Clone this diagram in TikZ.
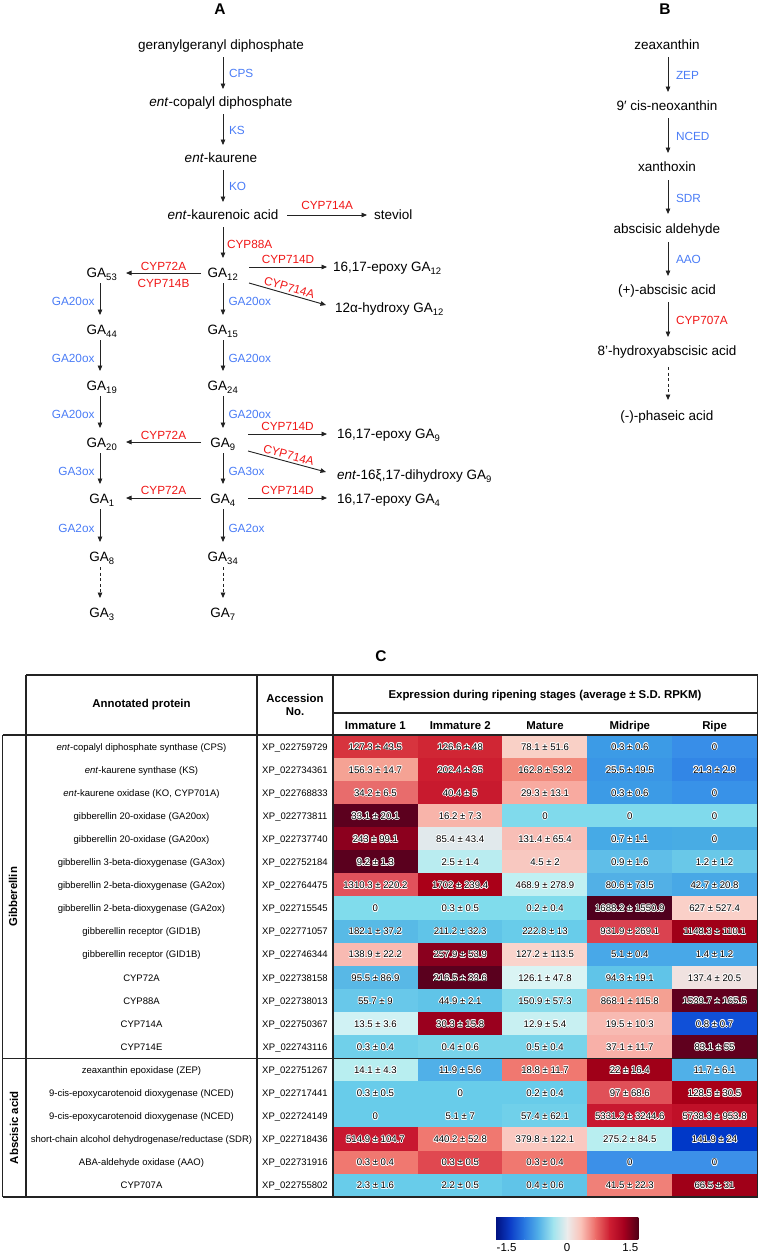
\documentclass[tikz,border=0pt]{standalone}
\usepackage{fontspec}
\setmainfont{Liberation Sans}
\usetikzlibrary{arrows.meta}
\definecolor{enzblue}{RGB}{74,124,246}
\definecolor{enzred}{RGB}{240,22,22}
\definecolor{linec}{RGB}{35,35,35}
\definecolor{cb0}{RGB}{0,18,130}
\definecolor{cb1}{RGB}{12,62,200}
\definecolor{cb2}{RGB}{42,122,225}
\definecolor{cb3}{RGB}{84,178,232}
\definecolor{cb4}{RGB}{160,228,238}
\definecolor{cb5}{RGB}{236,236,236}
\definecolor{cb6}{RGB}{250,192,182}
\definecolor{cb7}{RGB}{236,108,104}
\definecolor{cb8}{RGB}{205,30,50}
\definecolor{cb9}{RGB}{165,0,30}
\definecolor{cb10}{RGB}{80,0,22}
\newcommand{\halotxt}[1]{%
  \leavevmode
  \rlap{\kern-0.8pt\textcolor{white}{#1}}%
  \rlap{\kern0.8pt\textcolor{white}{#1}}%
  \rlap{\raise0.8pt\hbox{\textcolor{white}{#1}}}%
  \rlap{\lower0.8pt\hbox{\textcolor{white}{#1}}}%
  \rlap{\kern-0.6pt\raise0.6pt\hbox{\textcolor{white}{#1}}}%
  \rlap{\kern0.6pt\raise0.6pt\hbox{\textcolor{white}{#1}}}%
  \rlap{\kern-0.6pt\lower0.6pt\hbox{\textcolor{white}{#1}}}%
  \rlap{\kern0.6pt\lower0.6pt\hbox{\textcolor{white}{#1}}}%
  #1}
\tikzset{
  compound/.style={inner sep=0pt, outer sep=0pt, font=\fontsize{13.5}{16}\selectfont, text height=9.7pt, text depth=0pt},
  enzb/.style={inner sep=0pt, outer sep=0pt, font=\fontsize{11.8}{14}\selectfont, text=enzblue, text height=8.4pt, text depth=0pt},
  enzr/.style={inner sep=0pt, outer sep=0pt, font=\fontsize{11.8}{14}\selectfont, text=enzred, text height=8.4pt, text depth=0pt},
  arr/.style={draw=linec, line width=0.9pt, -{Triangle[length=5.5pt,width=4.6pt]}},
  darr/.style={arr, dash pattern=on 3pt off 2.6pt},
  panel/.style={inner sep=0pt, font=\bfseries\fontsize{15.5}{18}\selectfont},
  prot/.style={inner sep=0pt, font=\fontsize{9.5}{11}\selectfont, text height=6.9pt, text depth=0pt},
  heat/.style={inner sep=0pt, outer sep=0pt, minimum width=85.4pt, minimum height=23.6pt, font=\fontsize{9.6}{11}\selectfont, text height=6.9pt, text depth=0pt},
  hdr/.style={inner sep=0pt, font=\bfseries\fontsize{11.4}{13.8}\selectfont, align=center},
  tline/.style={draw=linec, line width=1.1pt},
  tthick/.style={draw=linec, line width=1.7pt},
  cbl/.style={inner sep=0pt, font=\fontsize{11.5}{14}\selectfont, text height=8.2pt, text depth=0pt}
}
\newcommand{\hc}[4]{%
  \definecolor{cc}{RGB}{#3}%
  \node[heat, fill=cc] (h#2-#1) at ({333+84.8*(#1-0.5)},{735+23.1*(#2-0.5)}) {\halotxt{#4}};}
\newcommand{\prow}[3]{%
  \node[prot] (p#1) at (141.5,{735+23.1*(#1-0.5)}) {#2};
  \node[prot] (a#1) at (295,{735+23.1*(#1-0.5)}) {#3};}
\begin{document}
\begin{tikzpicture}[x=1pt,y=-1pt]
\useasboundingbox (0,0) rectangle (759,1253);
% ---------- Panel A ----------
\node[panel] (lA) at (220,9.5) {A};
\coordinate (colM) at (223,0);
\coordinate (colL) at (100,0);
\coordinate (colB) at (668,0);
\node[compound] (ggpp) at (221,45) {geranylgeranyl diphosphate};
\node[compound] (cpp) at (221,102) {\textit{ent}-copalyl diphosphate};
\node[compound] (kaur) at (221,158) {\textit{ent}-kaurene};
\node[compound] (kacid) at (223,215) {\textit{ent}-kaurenoic acid};
\node[compound, anchor=west] (stev) at (374,215) {steviol};
\node[compound] (ga12) at (223,273) {GA\textsubscript{12}};
\node[compound] (ga53) at (102,273) {GA\textsubscript{53}};
\node[compound, anchor=west] (ep12) at (333,267) {16,17-epoxy GA\textsubscript{12}};
\node[compound, anchor=west] (hy12) at (335,308) {12α-hydroxy GA\textsubscript{12}};
\node[compound] (ga15) at (223,330) {GA\textsubscript{15}};
\node[compound] (ga24) at (223,386) {GA\textsubscript{24}};
\node[compound] (ga9) at (223,443) {GA\textsubscript{9}};
\node[compound] (ga4) at (223,499) {GA\textsubscript{4}};
\node[compound] (ga34) at (223,557) {GA\textsubscript{34}};
\node[compound] (ga7) at (223,613) {GA\textsubscript{7}};
\node[compound] (ga44) at (102,330) {GA\textsubscript{44}};
\node[compound] (ga19) at (102,386) {GA\textsubscript{19}};
\node[compound] (ga20) at (102,443) {GA\textsubscript{20}};
\node[compound] (ga1) at (102,499) {GA\textsubscript{1}};
\node[compound] (ga8) at (102,557) {GA\textsubscript{8}};
\node[compound] (ga3) at (102,613) {GA\textsubscript{3}};
\node[compound, anchor=west] (ep9) at (337,434) {16,17-epoxy GA\textsubscript{9}};
\node[compound, anchor=west] (dh9) at (337,475) {\textit{ent}-16ξ,17-dihydroxy GA\textsubscript{9}};
\node[compound, anchor=west] (ep4) at (337,499) {16,17-epoxy GA\textsubscript{4}};
% top chain
\draw[arr, shorten <=12pt, shorten >=13pt] (ggpp.center -| colM) -- node[enzb, right=6pt] (eCPS) {CPS} (cpp.center -| colM);
\draw[arr, shorten <=12pt, shorten >=13pt] (cpp.center -| colM) -- node[enzb, right=6pt] (eKS) {KS} (kaur.center -| colM);
\draw[arr, shorten <=12pt, shorten >=13pt] (kaur.center -| colM) -- node[enzb, right=6pt] (eKO) {KO} (kacid.center -| colM);
\draw[arr, shorten <=12pt, shorten >=15pt] (kacid.center -| colM) -- node[enzr, right=4pt] (e88) {CYP88A} (ga12.center -| colM);
\draw[arr] ([xshift=9pt]kacid.east) -- node[enzr, above=6pt] (eStev) {CYP714A} ([xshift=-7pt]stev.west);
% GA12 branches
\draw[arr] ([xshift=-22pt]ga12.center) -- node[enzr, above=2.8pt] (e72a) {CYP72A} node[enzr, below=5.8pt] (e714b) {CYP714B} ([xshift=24pt]ga53.center);
\draw[arr] ([xshift=26pt,yshift=6pt]ga12.center) -- node[enzr, above=3.5pt] (e714d1) {CYP714D} ([xshift=-6pt]ep12.west);
\draw[arr] ([xshift=26pt,yshift=-10pt]ga12.center) -- node[enzr, rotate=-16, anchor=south, outer sep=2.5pt] (e714a1) {CYP714A} ([xshift=-9pt,yshift=3pt]hy12.west);
% main column
\draw[arr, shorten <=10pt, shorten >=15pt] (ga12.center) -- node[enzb, right=5.5pt] (m1) {GA20ox} (ga15.center);
\draw[arr, shorten <=10pt, shorten >=15pt] (ga15.center) -- node[enzb, right=5.5pt] (m2) {GA20ox} (ga24.center);
\draw[arr, shorten <=10pt, shorten >=15pt] (ga24.center) -- node[enzb, right=5.5pt] (m3) {GA20ox} (ga9.center);
\draw[arr, shorten <=10pt, shorten >=15pt] (ga9.center) -- node[enzb, right=5.5pt] (m4) {GA3ox} (ga4.center);
\draw[arr, shorten <=10pt, shorten >=15pt] (ga4.center) -- node[enzb, right=5.5pt] (m5) {GA2ox} (ga34.center);
\draw[darr, shorten <=10pt, shorten >=15pt] (ga34.center) -- (ga7.center);
% left column
\draw[arr, shorten <=10pt, shorten >=15pt] (ga53.center -| colL) -- node[enzb, left=5.5pt] (l1) {GA20ox} (ga44.center -| colL);
\draw[arr, shorten <=10pt, shorten >=15pt] (ga44.center -| colL) -- node[enzb, left=5.5pt] (l2) {GA20ox} (ga19.center -| colL);
\draw[arr, shorten <=10pt, shorten >=15pt] (ga19.center -| colL) -- node[enzb, left=5.5pt] (l3) {GA20ox} (ga20.center -| colL);
\draw[arr, shorten <=10pt, shorten >=15pt] (ga20.center -| colL) -- node[enzb, left=5.5pt] (l4) {GA3ox} (ga1.center -| colL);
\draw[arr, shorten <=10pt, shorten >=15pt] (ga1.center -| colL) -- node[enzb, left=5.5pt] (l5) {GA2ox} (ga8.center -| colL);
\draw[darr, shorten <=10pt, shorten >=15pt] (ga8.center -| colL) -- (ga3.center -| colL);
% GA9 and GA4 branches
\draw[arr] ([xshift=25pt,yshift=9pt]ga9.center) -- node[enzr, above=3.5pt] (e714d2) {CYP714D} ([xshift=-10pt]ep9.west);
\draw[arr] ([xshift=25pt,yshift=-8pt]ga9.center) -- node[enzr, rotate=-15, anchor=south, outer sep=2.5pt] (e714a2) {CYP714A} ([xshift=-11pt,yshift=3pt]dh9.west);
\draw[arr] ([xshift=-22pt,yshift=1pt]ga9.center) -- node[enzr, above=3pt] (e72b) {CYP72A} ([xshift=24pt,yshift=1pt]ga20.center);
\draw[arr] ([xshift=-22pt,yshift=1pt]ga4.center) -- node[enzr, above=3.5pt] (e72c) {CYP72A} ([xshift=24pt,yshift=1pt]ga1.center);
\draw[arr] ([xshift=25pt,yshift=1pt]ga4.center) -- node[enzr, above=3.5pt] (e714d3) {CYP714D} ([xshift=-10pt,yshift=1pt]ep4.west);
% ---------- Panel B ----------
\node[panel] (lB) at (665,9.5) {B};
\node[compound] (zea) at (667,45) {zeaxanthin};
\node[compound] (neo) at (667,106) {9′ cis-neoxanthin};
\node[compound] (xan) at (667,167) {xanthoxin};
\node[compound] (abald) at (667,229) {abscisic aldehyde};
\node[compound] (aba) at (667,290) {(+)-abscisic acid};
\node[compound] (hyd) at (667,351) {8’-hydroxyabscisic acid};
\node[compound] (pha) at (667,416) {(-)-phaseic acid};
\draw[arr, shorten <=12pt, shorten >=14pt] (zea.center -| colB) -- node[enzb, right=8pt] (bZEP) {ZEP} (neo.center -| colB);
\draw[arr, shorten <=12pt, shorten >=14pt] (neo.center -| colB) -- node[enzb, right=8pt] (bNCED) {NCED} (xan.center -| colB);
\draw[arr, shorten <=13pt, shorten >=15pt] (xan.center -| colB) -- node[enzb, right=8pt] (bSDR) {SDR} (abald.center -| colB);
\draw[arr, shorten <=13pt, shorten >=14pt] (abald.center -| colB) -- node[enzb, right=8pt] (bAAO) {AAO} (aba.center -| colB);
\draw[arr, shorten <=12pt, shorten >=14pt] (aba.center -| colB) -- node[enzr, right=8pt] (bCYP) {CYP707A} (hyd.center -| colB);
\draw[darr, shorten <=16pt, shorten >=16pt] (hyd.center -| colB) -- (pha.center -| colB);
% ---------- Panel C ----------
\node[panel] (lC) at (381,656) {C};
% heat cells
\hc{1}{1}{215,52,62}{127.3 ± 43.5}
\hc{2}{1}{208,38,52}{126.6 ± 48}
\hc{3}{1}{249,208,198}{78.1 ± 51.6}
\hc{4}{1}{60,155,230}{0.3 ± 0.6}
\hc{5}{1}{56,142,232}{0}
\hc{1}{2}{245,162,148}{156.3 ± 14.7}
\hc{2}{2}{205,30,48}{202.4 ± 35}
\hc{3}{2}{242,138,124}{162.8 ± 53.2}
\hc{4}{2}{58,150,230}{25.5 ± 19.5}
\hc{5}{2}{50,134,230}{21.3 ± 2.9}
\hc{1}{3}{232,108,108}{34.2 ± 6.5}
\hc{2}{3}{200,26,46}{40.4 ± 5}
\hc{3}{3}{248,170,160}{29.3 ± 13.1}
\hc{4}{3}{60,155,230}{0.3 ± 0.6}
\hc{5}{3}{56,146,232}{0}
\hc{1}{4}{92,0,30}{33.1 ± 20.1}
\hc{2}{4}{248,180,170}{16.2 ± 7.3}
\hc{3}{4}{128,218,236}{0}
\hc{4}{4}{128,218,236}{0}
\hc{5}{4}{128,218,236}{0}
\hc{1}{5}{140,0,30}{243 ± 99.1}
\hc{2}{5}{225,233,236}{85.4 ± 43.4}
\hc{3}{5}{248,190,182}{131.4 ± 65.4}
\hc{4}{5}{70,170,230}{0.7 ± 1.1}
\hc{5}{5}{72,172,228}{0}
\hc{1}{6}{90,0,30}{9.2 ± 1.3}
\hc{2}{6}{185,236,240}{2.5 ± 1.4}
\hc{3}{6}{248,200,192}{4.5 ± 2}
\hc{4}{6}{95,190,232}{0.9 ± 1.6}
\hc{5}{6}{105,200,232}{1.2 ± 1.2}
\hc{1}{7}{225,82,92}{1310.3 ± 220.2}
\hc{2}{7}{170,0,24}{1702 ± 239.4}
\hc{3}{7}{192,240,242}{468.9 ± 278.9}
\hc{4}{7}{82,176,230}{80.6 ± 73.5}
\hc{5}{7}{72,168,230}{42.7 ± 20.8}
\hc{1}{8}{128,220,236}{0}
\hc{2}{8}{128,220,236}{0.3 ± 0.5}
\hc{3}{8}{128,220,236}{0.2 ± 0.4}
\hc{4}{8}{80,0,30}{1688.2 ± 1550.9}
\hc{5}{8}{250,208,200}{627 ± 527.4}
\hc{1}{9}{88,186,230}{182.1 ± 37.2}
\hc{2}{9}{96,196,232}{211.2 ± 32.3}
\hc{3}{9}{104,204,234}{222.8 ± 13}
\hc{4}{9}{218,66,80}{931.9 ± 269.1}
\hc{5}{9}{160,0,24}{1148.3 ± 110.1}
\hc{1}{10}{248,186,178}{138.9 ± 22.2}
\hc{2}{10}{138,0,30}{257.9 ± 53.9}
\hc{3}{10}{250,212,204}{127.2 ± 113.5}
\hc{4}{10}{72,168,232}{5.1 ± 0.4}
\hc{5}{10}{72,168,232}{1.4 ± 1.2}
\hc{1}{11}{88,184,230}{95.5 ± 86.9}
\hc{2}{11}{90,0,30}{216.5 ± 33.6}
\hc{3}{11}{218,244,244}{126.1 ± 47.8}
\hc{4}{11}{96,196,232}{94.3 ± 19.1}
\hc{5}{11}{240,226,224}{137.4 ± 20.5}
\hc{1}{12}{104,200,234}{55.7 ± 9}
\hc{2}{12}{96,196,232}{44.9 ± 2.1}
\hc{3}{12}{136,220,236}{150.9 ± 57.3}
\hc{4}{12}{244,160,146}{868.1 ± 115.8}
\hc{5}{12}{96,0,30}{1539.7 ± 165.5}
\hc{1}{13}{208,242,244}{13.5 ± 3.6}
\hc{2}{13}{154,0,30}{30.3 ± 15.8}
\hc{3}{13}{200,240,242}{12.9 ± 5.4}
\hc{4}{13}{248,186,178}{19.5 ± 10.3}
\hc{5}{13}{16,80,216}{0.8 ± 0.7}
\hc{1}{14}{112,208,234}{0.3 ± 0.4}
\hc{2}{14}{120,212,234}{0.4 ± 0.6}
\hc{3}{14}{120,212,234}{0.5 ± 0.4}
\hc{4}{14}{248,176,168}{37.1 ± 11.7}
\hc{5}{14}{96,0,30}{83.1 ± 55}
\hc{1}{15}{184,238,240}{14.1 ± 4.3}
\hc{2}{15}{80,176,232}{11.9 ± 5.6}
\hc{3}{15}{240,120,112}{18.8 ± 11.7}
\hc{4}{15}{160,0,24}{22 ± 16.4}
\hc{5}{15}{80,176,232}{11.7 ± 6.1}
\hc{1}{16}{104,204,234}{0.3 ± 0.5}
\hc{2}{16}{104,204,234}{0}
\hc{3}{16}{104,204,234}{0.2 ± 0.4}
\hc{4}{16}{224,80,88}{97 ± 68.6}
\hc{5}{16}{168,0,24}{128.5 ± 30.5}
\hc{1}{17}{104,204,234}{0}
\hc{2}{17}{104,204,234}{5.1 ± 7}
\hc{3}{17}{112,208,234}{57.4 ± 62.1}
\hc{4}{17}{200,24,48}{5331.2 ± 3244.6}
\hc{5}{17}{192,16,40}{5738.3 ± 953.8}
\hc{1}{18}{200,24,48}{514.9 ± 104.7}
\hc{2}{18}{240,120,112}{440.2 ± 52.8}
\hc{3}{18}{250,200,192}{379.8 ± 122.1}
\hc{4}{18}{184,238,240}{275.2 ± 84.5}
\hc{5}{18}{0,56,200}{141.9 ± 24}
\hc{1}{19}{240,120,112}{0.3 ± 0.4}
\hc{2}{19}{224,72,80}{0.3 ± 0.5}
\hc{3}{19}{240,120,112}{0.3 ± 0.4}
\hc{4}{19}{60,144,232}{0}
\hc{5}{19}{60,144,232}{0}
\hc{1}{20}{104,204,234}{2.3 ± 1.6}
\hc{2}{20}{104,204,234}{2.2 ± 0.5}
\hc{3}{20}{96,196,232}{0.4 ± 0.6}
\hc{4}{20}{240,128,120}{41.5 ± 22.3}
\hc{5}{20}{160,0,24}{66.5 ± 31}
% protein rows
\prow{1}{\textit{ent}-copalyl diphosphate synthase (CPS)}{XP\_022759729}
\prow{2}{\textit{ent}-kaurene synthase (KS)}{XP\_022734361}
\prow{3}{\textit{ent}-kaurene oxidase (KO, CYP701A)}{XP\_022768833}
\prow{4}{gibberellin 20-oxidase (GA20ox)}{XP\_022773811}
\prow{5}{gibberellin 20-oxidase (GA20ox)}{XP\_022737740}
\prow{6}{gibberellin 3-beta-dioxygenase (GA3ox)}{XP\_022752184}
\prow{7}{gibberellin 2-beta-dioxygenase (GA2ox)}{XP\_022764475}
\prow{8}{gibberellin 2-beta-dioxygenase (GA2ox)}{XP\_022715545}
\prow{9}{gibberellin receptor (GID1B)}{XP\_022771057}
\prow{10}{gibberellin receptor (GID1B)}{XP\_022746344}
\prow{11}{CYP72A}{XP\_022738158}
\prow{12}{CYP88A}{XP\_022738013}
\prow{13}{CYP714A}{XP\_022750367}
\prow{14}{CYP714E}{XP\_022743116}
\prow{15}{zeaxanthin epoxidase (ZEP)}{XP\_022751267}
\prow{16}{9-cis-epoxycarotenoid dioxygenase (NCED)}{XP\_022717441}
\prow{17}{9-cis-epoxycarotenoid dioxygenase (NCED)}{XP\_022724149}
\prow{18}{short-chain alcohol dehydrogenase/reductase (SDR)}{XP\_022718436}
\prow{19}{ABA-aldehyde oxidase (AAO)}{XP\_022731916}
\prow{20}{CYP707A}{XP\_022755802}
% headers
\node[hdr] (hProt) at (141.5,705) {Annotated protein};
\node[hdr] (hAcc) at (295,705) {Accession\\No.};
\node[hdr, text height=8.2pt, text depth=2pt] (hExp) at (545,695) {Expression during ripening stages (average ± S.D. RPKM)};
\node[hdr, text height=8.2pt, text depth=0pt] (s1) at (375.4,725) {Immature 1};
\node[hdr, text height=8.2pt, text depth=0pt] (s2) at (460.2,725) {Immature 2};
\node[hdr, text height=8.2pt, text depth=0pt] (s3) at (545,725) {Mature};
\node[hdr, text height=8.2pt, text depth=0pt] (s4) at (629.8,725) {Midripe};
\node[hdr, text height=8.2pt, text depth=0pt] (s5) at (714.6,725) {Ripe};
\node[hdr, rotate=90, text height=8.2pt, text depth=2pt] (catG) at (14,896.7) {Gibberellin};
\node[hdr, rotate=90, text height=8.2pt, text depth=0pt] (catA) at (14,1127.7) {Abscisic acid};
% table lines
\draw[tline] (26,675) -- (757.5,675);
\draw[tline] (333,713) -- (757.5,713);
\draw[tthick] (2.5,735) -- (757.5,735);
\draw[tthick] (2.5,1058.4) -- (757.5,1058.4);
\draw[tline] (2.5,1197) -- (757.5,1197);
\draw[tline] (2.5,735) -- (2.5,1197);
\draw[tline] (26,675) -- (26,1197);
\draw[tline] (257,675) -- (257,1197);
\draw[tline] (333,675) -- (333,1197);
\draw[tline] (757.5,675) -- (757.5,1197);
% colour bar
\foreach \i in {0,...,9}{
  \pgfmathtruncatemacro\j{\i+1}
  \shade[left color=cb\i, right color=cb\j] ({496+14.2*\i},1217) rectangle ({496+14.2*(\i+1)+0.3},1239);
}
\node[cbl, anchor=west] (cbm) at (496.5,1247) {-1.5};
\node[cbl] (cbz) at (567,1247) {0};
\node[cbl, anchor=east] (cbp) at (638.5,1247) {1.5};
\end{tikzpicture}
\end{document}
